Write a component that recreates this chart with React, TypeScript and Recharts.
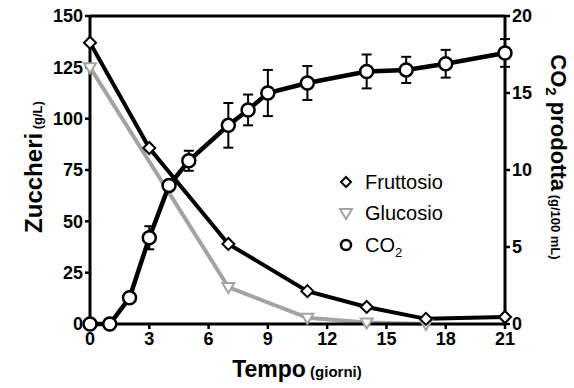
import React from 'react'
import { LineChart, Line, XAxis, YAxis, ErrorBar, ReferenceLine } from 'recharts'

// fructose and glucose in g/L, CO2 in g/100 mL
const fructoseDays = [0, 3, 7, 11, 14, 17, 21]
const fructose = [137, 85.7, 39, 16, 8.3, 2.5, 3.4]

const glucoseDays = [0, 7, 11, 14, 17]
const glucose = [125, 18, 3, 0.7, 0]

const co2Days = [0, 1, 2, 3, 4, 5, 7, 8, 9, 11, 14, 16, 18, 21]
const co2 = [0, 0, 1.7, 5.6, 9.0, 10.6, 12.9, 13.9, 15.0, 15.65, 16.4, 16.5, 16.9, 17.6]
const co2Err = [0, 0, 0, 0.75, 0.3, 0.65, 1.45, 1.0, 1.5, 1.1, 1.1, 0.85, 0.9, 0.9]

const xTicks = [0, 3, 6, 9, 12, 15, 18, 21]
const leftTicks = [0, 25, 50, 75, 100, 125, 150]
const rightTicks = [0, 5, 10, 15, 20]

const fructoseData = fructoseDays.map((t, i) => ({ t, v: fructose[i] }))
const glucoseData = glucoseDays.map((t, i) => ({ t, v: glucose[i] }))
const co2Data = co2Days.map((t, i) => ({ t, v: co2[i], e: co2Err[i] }))

const FONT = '"Liberation Sans", Arial, Helvetica, sans-serif'
const GRAY = '#a3a3a3'
const tickStyle = { fontSize: 18, fontWeight: 700, fill: '#000', fontFamily: FONT }

const Diamond = ({ cx, cy, s = 6 }: any) => (
  <path d={`M${cx},${cy - s} L${cx + s},${cy} L${cx},${cy + s} L${cx - s},${cy} Z`} fill="#fff" stroke="#000" strokeWidth={2} />
)
const Triangle = ({ cx, cy }: any) => (
  <path d={`M${cx - 6},${cy - 4} L${cx + 6},${cy - 4} L${cx},${cy + 6} Z`} fill="#fff" stroke={GRAY} strokeWidth={2} />
)
const Circle = ({ cx, cy, r = 6.5 }: any) => (
  <circle cx={cx} cy={cy} r={r} fill="#fff" stroke="#000" strokeWidth={2.5} />
)

export default function App() {
  return (
    <div style={{ position: 'absolute', left: 0, top: 0, width: 574, height: 388, background: '#fff' }}>
      <LineChart width={574} height={388} margin={{ top: 16, right: 0, bottom: 0, left: 0 }}>
        <XAxis
          type="number"
          dataKey="t"
          domain={[0, 21]}
          ticks={xTicks}
          height={64}
          tick={tickStyle}
          tickSize={5}
          tickMargin={3}
          axisLine={{ stroke: '#000', strokeWidth: 3 }}
          tickLine={{ stroke: '#000', strokeWidth: 2.5 }}
          allowDuplicatedCategory={false}
        />
        <YAxis
          yAxisId="left"
          domain={[0, 150]}
          ticks={leftTicks}
          width={90}
          tick={tickStyle}
          tickSize={5}
          tickMargin={2}
          axisLine={{ stroke: '#000', strokeWidth: 3 }}
          tickLine={{ stroke: '#000', strokeWidth: 2.5 }}
        />
        <YAxis
          yAxisId="right"
          orientation="right"
          domain={[0, 20]}
          ticks={rightTicks}
          width={69}
          tick={tickStyle}
          tickSize={5}
          tickMargin={2}
          axisLine={{ stroke: '#000', strokeWidth: 3 }}
          tickLine={{ stroke: '#000', strokeWidth: 2.5 }}
        />
        <ReferenceLine yAxisId="left" y={150} stroke="#000" strokeWidth={3} />
        <Line
          yAxisId="left"
          data={glucoseData}
          dataKey="v"
          stroke={GRAY}
          strokeWidth={4}
          dot={(p: any) => <Triangle key={`g${p.index}`} cx={p.cx} cy={p.cy} />}
          isAnimationActive={false}
        />
        <Line
          yAxisId="left"
          data={fructoseData}
          dataKey="v"
          stroke="#000"
          strokeWidth={4}
          dot={(p: any) => <Diamond key={`f${p.index}`} cx={p.cx} cy={p.cy} />}
          isAnimationActive={false}
        />
        <Line
          yAxisId="right"
          data={co2Data}
          dataKey="v"
          stroke="#000"
          strokeWidth={4.5}
          dot={(p: any) => <Circle key={`c${p.index}`} cx={p.cx} cy={p.cy} />}
          isAnimationActive={false}
        >
          <ErrorBar dataKey="e" direction="y" width={5} stroke="#000" strokeWidth={2} />
        </Line>
      </LineChart>
      <svg
        width={574}
        height={388}
        style={{ position: 'absolute', left: 0, top: 0, pointerEvents: 'none' }}
        fontFamily={FONT}
        fontWeight={700}
      >
        <text transform="translate(42,167) rotate(-90)" textAnchor="middle" fontSize={24}>
          Zuccheri<tspan fontSize={13}> (g/L)</tspan>
        </text>
        <text transform="translate(551,157) rotate(90)" textAnchor="middle" fontSize={22}>
          CO<tspan fontSize={15} dy={5}>2</tspan>
          <tspan dy={-5}> prodotta</tspan>
          <tspan fontSize={13}> (g/100 mL)</tspan>
        </text>
        <text x={297} y={377} textAnchor="middle" fontSize={23}>
          Tempo<tspan fontSize={15}> (giorni)</tspan>
        </text>
        <g fontWeight={400} fontSize={20}>
          <Diamond cx={346} cy={182} s={5} />
          <text x={365} y={189}>Fruttosio</text>
          <Triangle cx={346} cy={213} />
          <text x={365} y={220}>Glucosio</text>
          <Circle cx={346} cy={245} r={5} />
          <text x={365} y={252}>
            CO<tspan fontSize={13} dy={5}>2</tspan>
          </text>
        </g>
      </svg>
    </div>
  )
}
